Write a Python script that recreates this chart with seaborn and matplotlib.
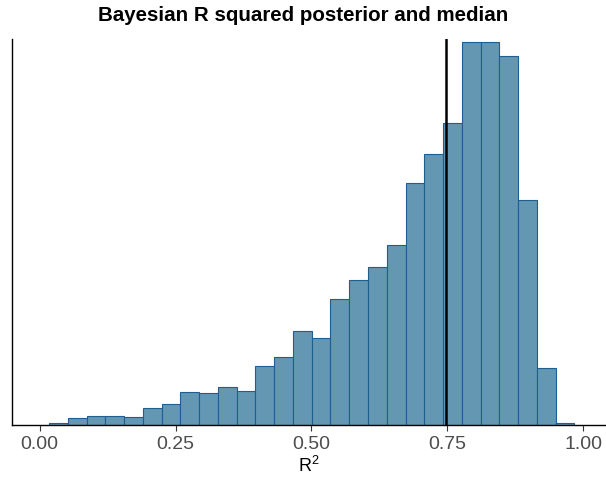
import numpy as np
import pandas as pd
import seaborn as sns
import matplotlib.pyplot as plt

# histogram (28 bins, counts per bin)
bin_lo = 0.0171
bin_hi = 0.9837
counts = [3, 8, 11, 11, 10, 20, 25, 40, 38, 45, 41, 71, 82, 112, 104,
          151, 174, 189, 216, 290, 325, 362, 459, 458, 442, 270, 68, 2]
r2_median = 0.747
x_ticks = [0.00, 0.25, 0.50, 0.75, 1.00]
x_ticklabels = ["0.00", "0.25", "0.50", "0.75", "1.00"]

width = (bin_hi - bin_lo) / len(counts)
centers = bin_lo + width * (np.arange(len(counts)) + 0.5)
df = pd.DataFrame({"r2": centers, "n": counts})

sns.set_style("ticks")
plt.rcParams["font.family"] = ["Liberation Sans", "DejaVu Sans"]
plt.rcParams["mathtext.default"] = "regular"

fig = plt.figure(figsize=(6.06, 4.83), dpi=100)
ax = fig.add_axes([0.0205, 0.120, 0.9795, 0.799])

sns.histplot(data=df, x="r2", weights="n", bins=len(counts),
             binrange=(bin_lo, bin_hi), ax=ax,
             color="#6497b1", alpha=1, edgecolor="#1f5e94", linewidth=0.8)
ax.axvline(r2_median, color="black", linewidth=1.8)

ax.set_xlim(-0.0502, 1.0418)
ax.set_ylim(0, 462)
ax.set_yticks([])
ax.set_ylabel("")
ax.set_xticks(x_ticks)
ax.set_xticklabels(x_ticklabels, fontsize=14, color="#4d4d4d")
ax.tick_params(axis="x", length=4, color="#333333", width=0.8, pad=4)
ax.set_xlabel("$R^2$", fontsize=13, color="black", labelpad=2)
ax.set_title("Bayesian R squared posterior and median", fontsize=14.8,
             fontweight="bold", color="black", pad=13, x=0.49)
for s in ["top", "right"]:
    ax.spines[s].set_visible(False)
for s in ["left", "bottom"]:
    ax.spines[s].set_linewidth(1.0)
    ax.spines[s].set_color("black")

fig.savefig("out.png", dpi=100)
